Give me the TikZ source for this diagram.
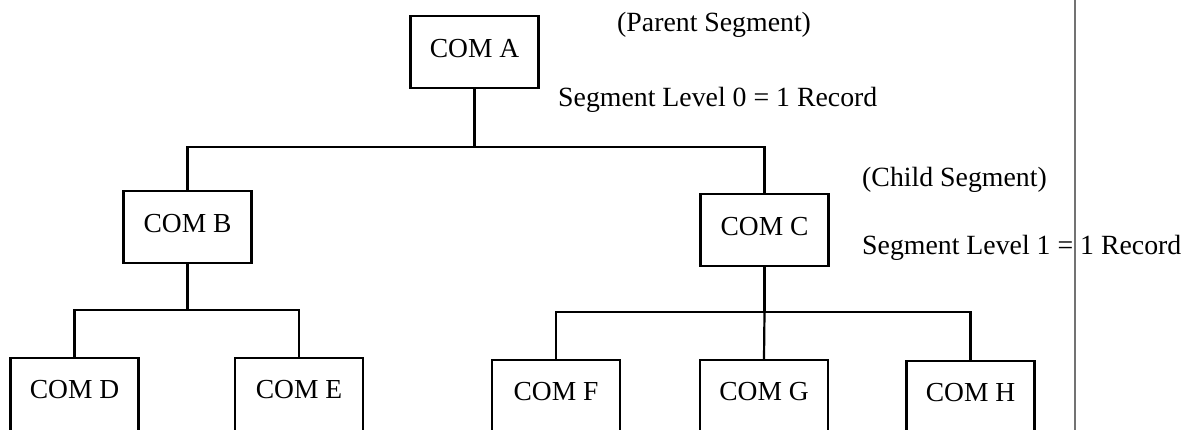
\documentclass[tikz,border=0pt]{standalone}
\usepackage{fontspec}
\setmainfont{Liberation Serif}
\begin{document}
\begin{tikzpicture}[x=1pt,y=-1pt,
  seg/.style={draw=black, line width=2.2pt, inner sep=0pt, minimum width=128pt,
    text height=42pt, text depth=30pt, anchor=base,
    font=\fontsize{27.5}{30}\selectfont},
  leaf/.style={seg, text height=40pt, text depth=42pt},
  conn/.style={draw=black, line width=2.2pt},
  note/.style={anchor=base west, inner sep=0pt, font=\fontsize{27.8}{30}\selectfont},
  edge/.style={draw=black!55, line width=2pt}]
\useasboundingbox (0,0) rectangle (1186,430);
\fill[white] (0,0) rectangle (1186,430);
\clip (0,0) rectangle (1186,430);

\node[seg] (A) at (474.5,58) {COM A};
\node[seg] (B) at (187.5,233) {COM B};
\node[seg] (C) at (764.5,236) {COM C};
\node[leaf] (D) at (74.5,398) {COM D};
\node[leaf] (E) at (299,398) {COM E};
\node[leaf] (F) at (556,400) {COM F};
\node[leaf] (G) at (764,400) {COM G};
\node[leaf] (H) at (970.5,401) {COM H};

\coordinate (y0) at (0,147);
\coordinate (y1) at (0,310);
\coordinate (y2) at (0,312);
\coordinate (jA) at (A.south |- y0);
\coordinate (jB) at (B.south |- y1);
\coordinate (jC) at (C.south |- y2);

\draw[conn] (A.south) -- (jA);
\draw[conn] (B.north) |- (jA) -| (C.north);
\draw[conn] (B.south) -- (jB);
\draw[conn] (D.north) |- (jB) -| (E.north);
\draw[conn] (C.south) -- (jC);
\draw[conn] (F.north) |- (jC) -| (H.north);
\draw[conn] (jC) -- (G.north);

\node[note] (pl) at (617,32) {(Parent Segment)};
\node[note] (l0) at (558,107) {Segment Level 0 = 1 Record};
\node[note] (cl) at (862,187) {(Child Segment)};
\node[note] (l1) at (862,255) {Segment Level 1 = 1 Record};

\coordinate (e1) at (1075,0);
\coordinate (e2) at (1075,430);
\draw[edge] (e1) -- (e2);
\end{tikzpicture}
\end{document}
